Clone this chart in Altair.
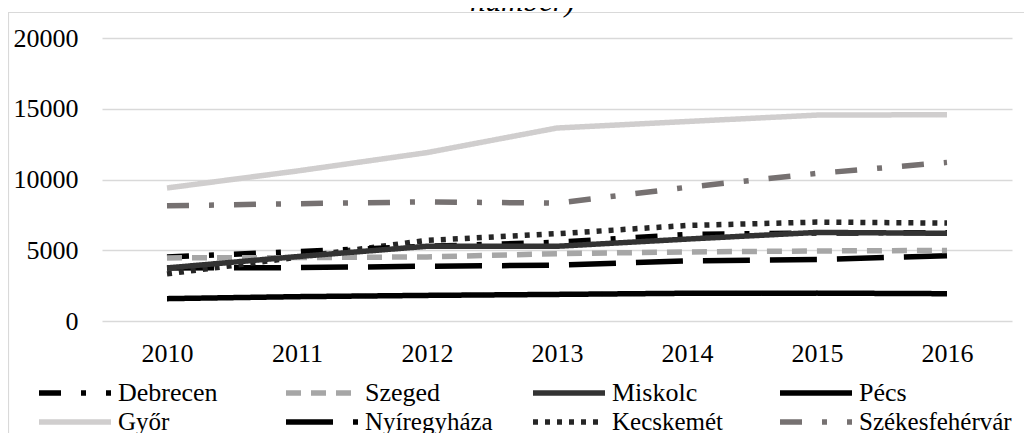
import altair as alt
import pandas as pd

years = ["2010", "2011", "2012", "2013", "2014", "2015", "2016"]
cities = ["Debrecen", "Szeged", "Miskolc", "Pécs", "Győr", "Nyíregyháza", "Kecskemét", "Székesfehérvár"]
debrecen = [4530, 4900, 5280, 5560, 6120, 6220, 6240]
szeged = [4460, 4480, 4530, 4760, 4880, 4950, 4990]
miskolc = [3750, 4550, 5280, 5280, 5790, 6260, 6200]
pecs = [1580, 1720, 1810, 1880, 1960, 1970, 1930]
gyor = [9400, 10600, 11900, 13640, 14100, 14550, 14580]
nyiregyhaza = [3750, 3770, 3870, 3940, 4250, 4340, 4620]
kecskemet = [3330, 4500, 5700, 6170, 6750, 6990, 6920]
szekesfehervar = [8140, 8290, 8420, 8330, 9450, 10430, 11210]
y_ticks = [0, 5000, 10000, 15000, 20000]
title_text = "number)"

colors = ["#000000", "#a6a6a6", "#333333", "#000000", "#d0cece", "#000000", "#262626", "#767171"]
dashes = [[22, 20, 5, 20], [15, 10], [1, 0], [1, 0], [1, 0], [47, 20], [5, 7], [22, 20, 5, 20]]

series = [debrecen, szeged, miskolc, pecs, gyor, nyiregyhaza, kecskemet, szekesfehervar]
rows = []
for c, vals in zip(cities, series):
    for yr, v in zip(years, vals):
        rows.append({"year": yr, "city": c, "value": v})
df = pd.DataFrame(rows)

FONT = "Liberation Serif"

x_enc = alt.X("year:O", scale=alt.Scale(type="point", padding=0.5),
              axis=alt.Axis(title=None, labelAngle=0, domain=False, ticks=False, grid=False,
                            labelPadding=19, labelFont=FONT, labelFontSize=26, labelColor="#000"))
y_enc = alt.Y("value:Q", scale=alt.Scale(domain=[0, 20000]),
              axis=alt.Axis(title=None, values=y_ticks, format="d", domain=False, ticks=False,
                            gridColor="#d9d9d9", gridWidth=1.5, labelPadding=24, labelFont=FONT,
                            labelFontSize=26, labelColor="#000"))


def line_layer(idx, legend_y, col_pad, font_size):
    dom = [cities[i] for i in idx]
    sub = df[df["city"].isin(dom)]
    return alt.Chart(sub).mark_line(strokeWidth=5.5, strokeCap="butt", strokeJoin="round").encode(
        x=x_enc,
        y=y_enc,
        color=alt.Color("city:N", scale=alt.Scale(domain=dom, range=[colors[i] for i in idx]),
                        legend=alt.Legend(title=None, orient="none", legendX=-66, legendY=legend_y,
                                          columns=4, gridAlign="all", columnPadding=col_pad, padding=0,
                                          symbolType="stroke", symbolSize=5184, symbolStrokeWidth=5.5,
                                          labelFont=FONT, labelFontSize=font_size, labelColor="#000",
                                          labelOffset=4, labelLimit=400)),
        strokeDash=alt.StrokeDash("city:N", scale=alt.Scale(domain=dom, range=[dashes[i] for i in idx]),
                                  legend=None),
        detail="city:N",
    )


row1 = line_layer([0, 1, 2, 3], 316, 57, 26)
row2 = line_layer([4, 5, 6, 7], 345, 4, 25)

frame = alt.Chart(pd.DataFrame({"f": [0]})).mark_rect(fill=None, stroke="#d9d9d9", strokeWidth=1.2).encode(
    x=alt.value(-93.5), x2=alt.value(1000), y=alt.value(-25.5), y2=alt.value(500)
)

title = alt.Chart(pd.DataFrame({"t": [title_text]})).mark_text(
    font=FONT, fontStyle="italic", fontSize=31, color="#000", align="left", baseline="alphabetic"
).encode(text="t:N", x=alt.value(368), y=alt.value(-27))

chart = alt.layer(frame, row2, row1, title).resolve_scale(
    color="independent", strokeDash="independent"
).properties(
    width=910, height=283,
    autosize="none",
    padding={"left": 94, "top": 30, "right": 12, "bottom": 112},
).configure_view(stroke=None)

chart.save("out.html", embed_options={"renderer": "svg", "actions": False})
